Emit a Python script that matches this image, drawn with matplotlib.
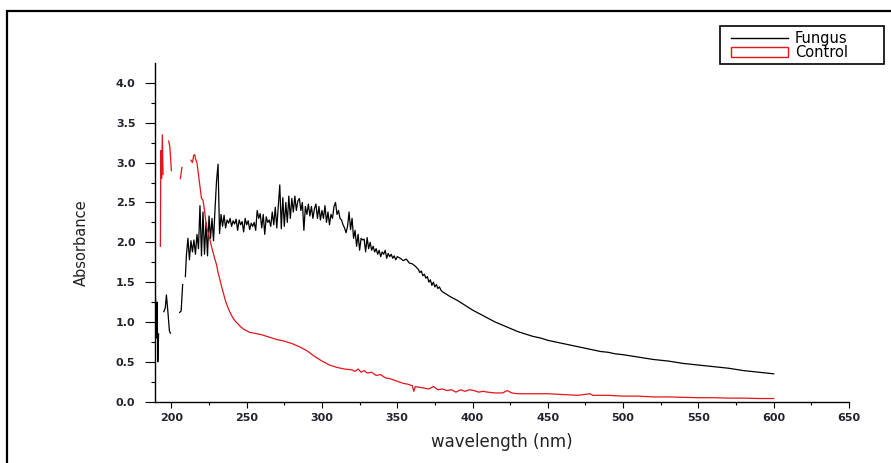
import numpy as np
import matplotlib
matplotlib.use("Agg")
import matplotlib.pyplot as plt
from matplotlib.lines import Line2D
from matplotlib.patches import Patch, Rectangle

nan = np.nan

# ---------------- data ----------------
fungus_wl_edge = [189.5, 190.0, 190.5, 191.0, 191.5, 192.0, 195.0, 196.0, 196.7, 197.6,
                  198.7, 199.3, 200.0, 205.5, 206.5, 207.5, 208.5, 209.3, 210.0]
fungus_abs_edge = [1.30, 0.80, 1.25, 0.50, 0.85, nan, 1.13, 1.18, 1.34, 1.15,
                   0.89, 0.86, nan, 1.12, 1.14, 1.47, nan, 1.57, 1.84]

fungus_wl_mid = np.arange(211, 351)
fungus_abs_mid = [
    2.05, 1.78, 2.02, 1.88, 2.03, 1.85, 2.10, 1.92, 2.46, 1.83,
    2.38, 1.85, 2.25, 1.83, 2.33, 2.05, 2.30, 2.02, 2.42, 2.77,
    2.98, 2.11, 2.35, 2.20, 2.34, 2.18, 2.28, 2.24, 2.30, 2.20,
    2.27, 2.23, 2.29, 2.15, 2.28, 2.22, 2.26, 2.13, 2.30, 2.22,
    2.27, 2.16, 2.24, 2.20, 2.25, 2.15, 2.40, 2.30, 2.36, 2.18,
    2.35, 2.10, 2.32, 2.25, 2.28, 2.20, 2.38, 2.22, 2.44, 2.18,
    2.46, 2.72, 2.17, 2.56, 2.20, 2.50, 2.25, 2.58, 2.30, 2.55,
    2.38, 2.58, 2.40, 2.52, 2.55, 2.40, 2.50, 2.15, 2.45, 2.35,
    2.48, 2.33, 2.45, 2.30, 2.42, 2.48, 2.30, 2.45, 2.28, 2.40,
    2.30, 2.46, 2.25, 2.38, 2.22, 2.35, 2.30, 2.45, 2.50, 2.35,
    2.40, 2.30, 2.28, 2.22, 2.18, 2.12, 2.20, 2.38, 2.16, 2.30,
    2.05, 2.15, 1.95, 2.10, 1.90, 2.05, 2.03, 2.04, 1.88, 2.06,
    1.92, 2.00, 1.90, 1.95, 1.88, 1.92, 1.85, 1.90, 1.82, 1.88,
    1.85, 1.90, 1.80, 1.86, 1.82, 1.85, 1.80, 1.83, 1.78, 1.82,
]

fungus_wl_tail = [352, 354, 356, 358, 360, 362, 364,
                  365, 366, 367, 368, 369, 370, 371, 372, 373, 374, 375, 376, 377, 378, 379, 380,
                  385, 390, 395, 400, 405, 410, 415, 420, 425, 430, 435, 440, 445, 450, 455, 460,
                  465, 470, 475, 480, 485, 490, 495, 500,
                  510, 520, 530, 540, 550, 560, 570, 580, 590, 600]
fungus_abs_tail = [1.80, 1.77, 1.79, 1.74, 1.73, 1.70, 1.66,
                   1.62, 1.64, 1.58, 1.60, 1.55, 1.57, 1.50, 1.53, 1.46, 1.50, 1.44, 1.47, 1.42, 1.44, 1.40, 1.38,
                   1.32, 1.27, 1.21, 1.15, 1.10, 1.05, 1.00, 0.96, 0.92, 0.88, 0.85, 0.82, 0.80, 0.77, 0.75, 0.73,
                   0.71, 0.69, 0.67, 0.65, 0.63, 0.62, 0.60, 0.59,
                   0.56, 0.53, 0.51, 0.48, 0.46, 0.44, 0.42, 0.39, 0.37, 0.35]

control_wl_edge = [192.7, 193.0, 193.5, 194.0, 194.5, 195.0, 198.2, 199.0, 200.0, 201.0,
                   206.0, 207.0, 208.0, 213.0, 214.0, 214.8, 215.5, 216.0, 217.0, 218.0, 219.0, 220.0]
control_abs_edge = [1.95, 3.15, 2.80, 3.35, 2.85, nan, 3.27, 3.20, 2.90, nan,
                    2.80, 2.94, nan, 3.03, 3.00, 3.09, 3.10, 3.05, 3.00, 2.85, 2.70, 2.55]

control_wl_mid = np.arange(221, 247)
control_abs_mid = [2.53, 2.40, 2.25, 2.15, 2.08, 2.00, 1.92, 1.85, 1.78, 1.72,
                   1.62, 1.55, 1.47, 1.40, 1.33, 1.26, 1.21, 1.16, 1.12, 1.08,
                   1.05, 1.02, 1.00, 0.98, 0.96, 0.94]

control_wl_tail = [248, 250, 252, 255, 260, 265, 270, 275, 280, 285,
                   290, 295, 300, 305, 310, 315, 320, 322, 324, 326,
                   328, 330, 333, 336, 339, 342, 345, 348, 351, 354,
                   357, 360, 361, 362, 365, 368, 371, 374, 377, 380,
                   383, 386, 389, 392, 395, 398, 401, 404, 407, 410,
                   415, 420, 423, 426, 430, 440, 450, 460, 470, 478,
                   480, 490, 500, 510, 520, 530, 540, 550, 560, 570,
                   580, 590, 600]
control_abs_tail = [0.91, 0.89, 0.87, 0.86, 0.84, 0.81, 0.78, 0.76, 0.73, 0.69,
                    0.64, 0.57, 0.51, 0.46, 0.43, 0.41, 0.40, 0.38, 0.41, 0.37,
                    0.39, 0.36, 0.37, 0.33, 0.34, 0.30, 0.29, 0.27, 0.25, 0.23,
                    0.22, 0.20, 0.13, 0.19, 0.18, 0.17, 0.16, 0.19, 0.15, 0.16,
                    0.14, 0.15, 0.12, 0.15, 0.13, 0.15, 0.14, 0.12, 0.13, 0.12,
                    0.11, 0.11, 0.14, 0.11, 0.10, 0.10, 0.10, 0.09, 0.08, 0.10,
                    0.08, 0.08, 0.07, 0.07, 0.06, 0.06, 0.055, 0.05, 0.05, 0.045,
                    0.045, 0.04, 0.04]

series_labels = ["Fungus", "Control"]
x_ticks = [200, 250, 300, 350, 400, 450, 500, 550, 600, 650]
y_ticks = [0.0, 0.5, 1.0, 1.5, 2.0, 2.5, 3.0, 3.5, 4.0]

fungus_wl = np.concatenate([fungus_wl_edge, fungus_wl_mid, fungus_wl_tail])
fungus_abs = np.concatenate([fungus_abs_edge, fungus_abs_mid, fungus_abs_tail])
control_wl = np.concatenate([control_wl_edge, control_wl_mid, control_wl_tail])
control_abs = np.concatenate([control_abs_edge, control_abs_mid, control_abs_tail])

# ---------------- figure ----------------
W, H = 891, 463
fig = plt.figure(figsize=(W / 100, H / 100), dpi=100)
fig.patch.set_facecolor("white")

ax_left, ax_right, ax_bottom, ax_top = 154.5, 849.0, 401.7, 63.0
ax = fig.add_axes([ax_left / W, 1 - ax_bottom / H,
                   (ax_right - ax_left) / W, (ax_bottom - ax_top) / H])

ax.plot(fungus_wl, fungus_abs, color="black", lw=0.9, label=series_labels[0])
ax.plot(control_wl, control_abs, color="#e3141b", lw=0.9, label=series_labels[1])

ax.set_xlim(188.8, 650)
ax.set_ylim(0, 4.25)

for s in ["top", "right"]:
    ax.spines[s].set_visible(False)
for s in ["left", "bottom"]:
    ax.spines[s].set_linewidth(1.0)
    ax.spines[s].set_color("black")

ax.set_xticks(x_ticks)
ax.set_xticklabels([str(v) for v in x_ticks])
ax.set_xticks(np.arange(225, 650, 50), minor=True)
ax.set_yticks(y_ticks)
ax.set_yticklabels([f"{v:.1f}" for v in y_ticks])
ax.set_yticks(np.arange(0.25, 4.25, 0.5), minor=True)

ax.tick_params(axis="y", which="major", direction="out", length=7.2, width=0.8,
               pad=6.5, labelsize=8, labelcolor="#23232e")
ax.tick_params(axis="y", which="minor", direction="out", length=3.0, width=0.8)
ax.tick_params(axis="x", which="major", direction="out", length=4.5, width=0.8,
               pad=3.5, labelsize=8, labelcolor="#23232e")
ax.tick_params(axis="x", which="minor", direction="out", length=2.4, width=0.8)
for lab in ax.get_xticklabels() + ax.get_yticklabels():
    lab.set_fontweight("bold")
    lab.set_family("DejaVu Sans")

ax.set_xlabel("wavelength (nm)", fontsize=12, family="DejaVu Sans", color="#222222")
ax.xaxis.set_label_coords(0.5, (ax_bottom - 433) / (ax_bottom - ax_top))
ax.xaxis.label.set_verticalalignment("top")

ax.set_ylabel("Absorbance", fontsize=10.5, family="DejaVu Sans", color="#222222")
ax.yaxis.set_label_coords((81 - ax_left) / (ax_right - ax_left),
                          (ax_bottom - 243) / (ax_bottom - ax_top))
ax.yaxis.label.set_verticalalignment("center")

# legend (contents from the library legend, box drawn to the original's size)
fs_leg = 10.5
em = fs_leg * 100 / 72.0
handles = [Line2D([0], [0], color="black", lw=1.0),
           Patch(facecolor="none", edgecolor="#e3141b", lw=1.0)]
pad_em = 0.3
leg = fig.legend(handles, series_labels, loc="upper left",
                 bbox_to_anchor=((731 - pad_em * em) / W, 1 - 27 / H),
                 prop=dict(family="DejaVu Sans", size=fs_leg),
                 frameon=False, borderpad=pad_em, labelspacing=-0.08,
                 handlelength=57 / em, handletextpad=7 / em,
                 borderaxespad=0.0, handleheight=0.65)
box = Rectangle((720 / W, 1 - 64 / H), (884 - 720) / W, (64 - 26) / H,
                transform=fig.transFigure, fill=False, edgecolor="black",
                lw=1.2, zorder=5)
fig.add_artist(box)

# outer frame of the original figure (partially cut off)
frame = Rectangle((7 / W, -0.2), 1.5, 1.2 - 11 / H, transform=fig.transFigure,
                  fill=False, edgecolor="black", lw=1.6, clip_on=False)
fig.add_artist(frame)

fig.savefig("out.png", dpi=100, facecolor="white")
